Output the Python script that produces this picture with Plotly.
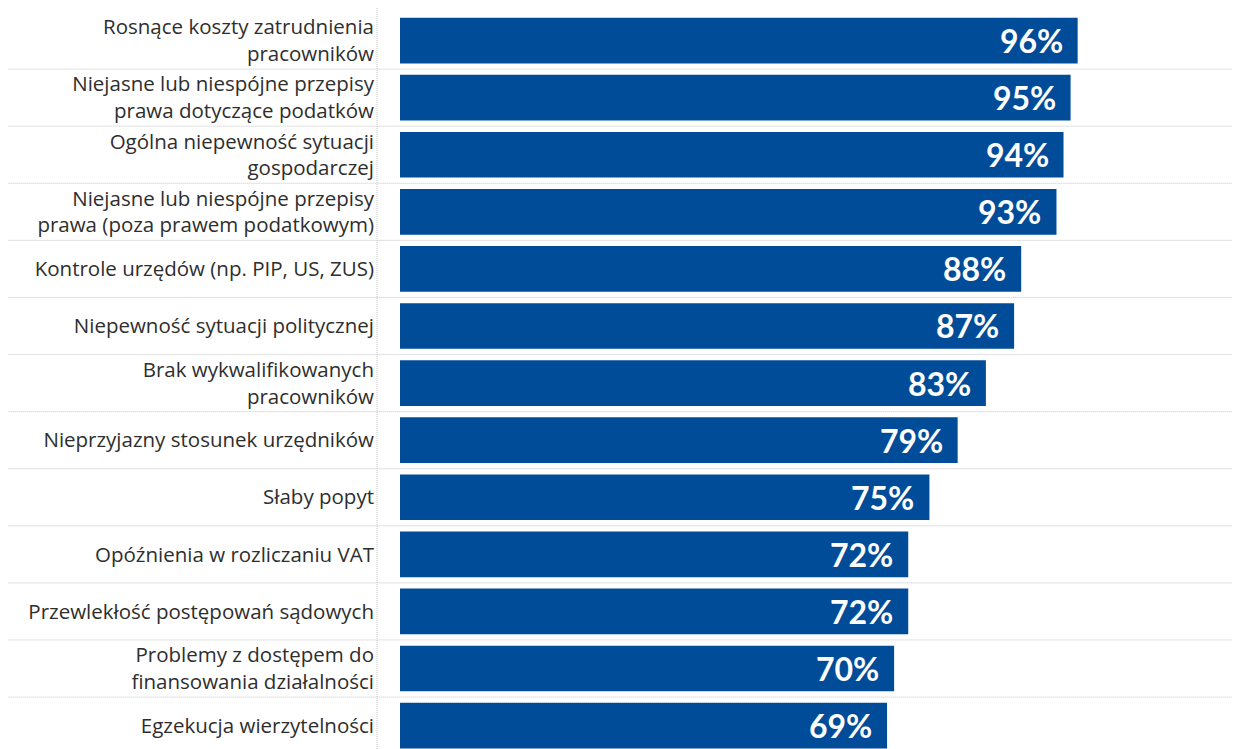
import plotly.graph_objects as go

categories = [
    "Rosnące koszty zatrudnienia<br>pracowników",
    "Niejasne lub niespójne przepisy<br>prawa dotyczące podatków",
    "Ogólna niepewność sytuacji<br>gospodarczej",
    "Niejasne lub niespójne przepisy<br>prawa (poza prawem podatkowym)",
    "Kontrole urzędów (np. PIP, US, ZUS)",
    "Niepewność sytuacji politycznej",
    "Brak wykwalifikowanych<br>pracowników",
    "Nieprzyjazny stosunek urzędników",
    "Słaby popyt",
    "Opóźnienia w rozliczaniu VAT",
    "Przewlekłość postępowań sądowych",
    "Problemy z dostępem do<br>finansowania działalności",
    "Egzekucja wierzytelności",
]
values = [96, 95, 94, 93, 88, 87, 83, 79, 75, 72, 72, 70, 69]
value_labels = [f"{v}%" for v in values]

BAR = "#004C99"
GRID = "#c4c4c4"

# page body has an 8px default margin; figure is sized to compensate
fig = go.Figure()
fig.add_trace(go.Bar(
    y=categories, x=values, orientation="h",
    marker=dict(color=BAR, line=dict(width=0)),
    width=0.8, hoverinfo="skip",
))

annotations = []
for c, v, t in zip(categories, values, value_labels):
    annotations.append(dict(
        x=v, y=c, xref="x", yref="y", text=t, showarrow=False,
        xanchor="right", yanchor="middle", xshift=-13,
        font=dict(family="Lato", size=32, color="white", weight="bold"),
    ))

shapes = []
n = len(categories)
for i in range(n - 1):
    shapes.append(dict(
        type="line", xref="paper", yref="y",
        x0=-0.45, x1=1.0, y0=i + 0.5, y1=i + 0.5,
        line=dict(color=GRID, width=1, dash="1px,1px"), layer="below",
    ))
shapes.append(dict(
    type="line", xref="paper", yref="paper",
    x0=0, x1=0, y0=0, y1=1.02,
    line=dict(color=GRID, width=1, dash="1px,1px"), layer="below",
))

fig.update_layout(
    width=1232, height=741,
    margin=dict(l=369, r=0, t=4, b=0),
    paper_bgcolor="white", plot_bgcolor="white",
    showlegend=False,
    bargap=0.2,
    xaxis=dict(range=[-3.26, 119], visible=False, fixedrange=True),
    yaxis=dict(
        type="category", range=[12.41, -0.5],
        showgrid=False, zeroline=False, showline=False,
        ticks="", ticklabelstandoff=2,
        tickfont=dict(family="Open Sans", size=20.5, color="#2e2e2e"),
        fixedrange=True,
    ),
    annotations=annotations,
    shapes=shapes,
)

fig.write_html("out.html")
